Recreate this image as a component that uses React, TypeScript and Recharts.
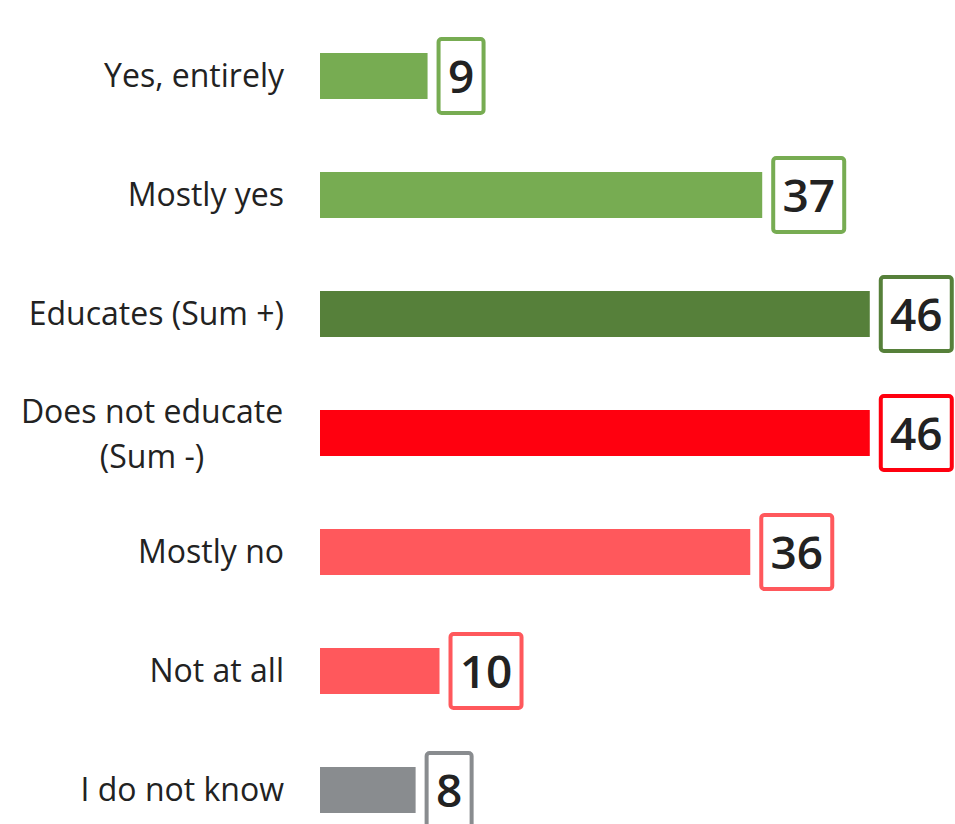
import React from "react";
import { BarChart, Bar, XAxis, YAxis, Cell, LabelList } from "recharts";

const categories = [
  "Yes, entirely",
  "Mostly yes",
  "Educates (Sum +)",
  "Does not educate\n(Sum -)",
  "Mostly no",
  "Not at all",
  "I do not know",
];
const values = [9, 37, 46, 46, 36, 10, 8];
const barColors = ["#77AC52", "#77AC52", "#56803A", "#FF000F", "#FF585C", "#FF585C", "#898C8F"];

const rows = categories.map((name, i) => ({ name, value: values[i], color: barColors[i] }));

const FONT = "'Open Sans', 'Noto Sans', sans-serif";
const TEXT = "#222222";

const CategoryTick = (props: any) => {
  const { x, y, payload } = props;
  const lines = String(payload.value).split("\n");
  if (lines.length === 1) {
    return (
      <text x={x} y={y} dy={11} textAnchor="end" fontFamily={FONT} fontSize={32} fontWeight={500} fill={TEXT}>
        {lines[0]}
      </text>
    );
  }
  const cx = x - 132;
  return (
    <text fontFamily={FONT} fontSize={32} fontWeight={500} fill={TEXT} textAnchor="middle">
      {lines.map((l: string, k: number) => (
        <tspan key={k} x={cx} y={y - 21 + k * 45 + 11}>
          {l}
        </tspan>
      ))}
    </text>
  );
};

const ValueBox = (props: any) => {
  const { x, y, width, height, value, index } = props;
  const color = rows[index]?.color ?? "#777";
  const digits = String(value).length;
  const outerW = digits * 26 + 23;
  const outerH = 78;
  const sw = 4;
  const left = x + width + 9;
  const cy = y + height / 2;
  return (
    <g>
      <rect
        x={left + sw / 2}
        y={cy - outerH / 2 + sw / 2}
        width={outerW - sw}
        height={outerH - sw}
        rx={3}
        ry={3}
        fill="#ffffff"
        stroke={color}
        strokeWidth={sw}
      />
      <text
        x={left + outerW / 2}
        y={cy + 17}
        textAnchor="middle"
        fontFamily={FONT}
        fontSize={46}
        fontWeight={600}
        fill={TEXT}
      >
        {value}
      </text>
    </g>
  );
};

export default function App() {
  return (
    <div style={{ position: "absolute", left: 8, top: 8, width: 947, height: 816, overflow: "hidden" }}>
      <BarChart
        width={955}
        height={845}
        data={rows}
        layout="vertical"
        margin={{ top: 8, right: 0, bottom: 4, left: 0 }}
        barSize={46}
      >
        <XAxis type="number" hide domain={[0, 53.8]} />
        <YAxis
          type="category"
          dataKey="name"
          width={312}
          axisLine={false}
          tickLine={false}
          tickMargin={30}
          tick={<CategoryTick />}
          interval={0}
        />
        <Bar dataKey="value" isAnimationActive={false}>
          {rows.map((r, i) => (
            <Cell key={i} fill={r.color} />
          ))}
          <LabelList dataKey="value" content={<ValueBox />} />
        </Bar>
      </BarChart>
    </div>
  );
}
